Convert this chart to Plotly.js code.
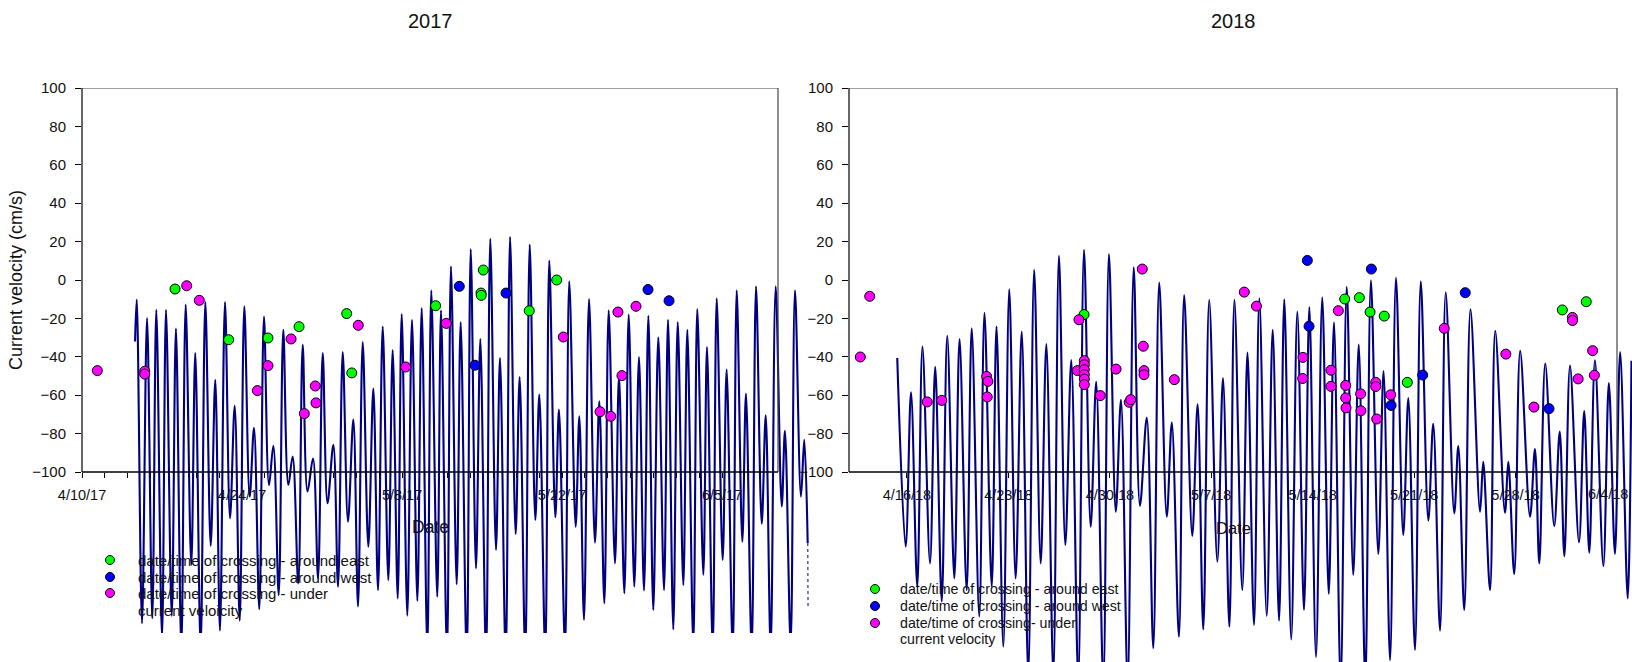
<!DOCTYPE html>
<html>
<head>
<meta charset="utf-8">
<script src="https://cdn.plot.ly/plotly-3.0.1.min.js"></script>
<style>
  html, body { margin: 0; padding: 0; background: #fff; }
  #chart { width: 1632px; height: 662px; }
</style>
</head>
<body>
<div id="chart"></div>
<script>
// Current velocity at the crossing site with the dates/times of fish crossings,
// spring 2017 and spring 2018. Times are elapsed days from the window start.
const START_2017 = '2017-04-10';
const START_2018 = '2018-04-12';

// ---- 2017: current velocity (cm/s), turning points of the record ----
const day2017 = [4.64, 4.79, 5.25, 5.69, 6.15, 6.50, 7.00, 7.35, 7.85, 8.22, 8.69, 9.07, 9.56, 9.91,
  10.38, 10.79, 11.26, 11.66, 12.07, 12.51, 12.95, 13.36, 13.80, 14.20, 14.67, 15.05, 15.51, 15.92,
  16.36, 16.74, 17.21, 17.61, 18.05, 18.43, 18.92, 19.31, 19.73, 20.21, 20.65, 21.06, 21.48, 21.99,
  22.40, 22.81, 23.27, 23.74, 24.15, 24.56, 25.05, 25.49, 25.90, 26.31, 26.80, 27.18, 27.62, 27.97,
  28.46, 28.87, 29.34, 29.72, 30.21, 30.56, 31.08, 31.41, 31.93, 32.28, 32.78, 33.13, 33.66, 34.01,
  34.47, 34.85, 35.35, 35.72, 36.22, 36.57, 37.07, 37.45, 37.94, 38.29, 38.78, 39.17, 39.66, 40.01,
  40.53, 40.88, 41.41, 41.73, 42.26, 42.63, 43.19, 43.51, 43.92, 44.36, 44.88, 45.26, 45.70, 46.08,
  46.63, 46.98, 47.45, 47.83, 48.32, 48.73, 49.17, 49.55, 49.98, 50.42, 50.92, 51.27, 51.73, 52.12,
  52.61, 52.96, 53.48, 53.83, 54.36, 54.68, 55.18, 55.53, 56.05, 56.40, 56.93, 57.28, 57.77, 58.09,
  58.59, 58.97, 59.47, 59.82, 60.25, 60.69, 61.22, 61.50, 62.00, 62.38, 62.90, 63.19, 63.49];
const vel2017 = [-32, -10.2, -178.8, -19.8, -176.2, -15.5, -186, -15.5, -175, -25.3, -192, -12.8, -148.4, -38,
  -192, -11.5, -138.5, -52, -182.6, -11.5, -124.1, -65.5, -177.4, -13.7, -112.8, -77, -171.5, -19,
  -106.8, -86.3, -164.1, -25.9, -106.8, -92, -158, -33.7, -110.2, -93, -155.4, -38, -116.3, -85.8,
  -159.7, -37.5, -125.9, -72.7, -170, -32.3, -138.9, -56.6, -161.5, -24.3, -156.3, -36.5, -165.8, -17.7,
  -174.8, -20.7, -167.2, -14.6, -192, -5.4, -165, -15.8, -195, 7.1, -158.5, -21.9, -198, 16.1,
  -150.2, -30.7, -198, 21.4, -140.6, -40.6, -198, 22.4, -132.3, -50.5, -196, 18.4, -125, -59.7,
  -195, 10.1, -123.6, -67.5, -192, -0.7, -128.5, -71, -177, -9.9, -136.8, -63.2, -168.4, -15.8,
  -147.6, -50, -163.2, -18, -159.7, -40.1, -161.8, -18.6, -171.9, -29.9, -161.5, -20.7, -182, -21.9,
  -158.9, -25.9, -190, -15.1, -153.6, -34.9, -192, -9.5, -145.8, -46.7, -193, -5.4, -136.3, -59.2,
  -193, -3.3, -127, -70.5, -192, -3.3, -118, -78.5, -190, -5.4, -112.8, -83.2, -137];
// last, broken stretch of the 2017 record
const tailDay2017 = [63.50, 63.52];
const tailVel2017 = [-137, -171];

// ---- 2017: crossings ----
const eastDay2017 = [8.14, 12.83, 16.27, 18.99, 23.16, 23.60, 30.94, 34.91, 34.93, 35.11, 39.13, 41.53];
const eastVel2017 = [-4.7, -31.1, -30.2, -24.3, -17.5, -48.4, -13.4, -6.8, -8.0, 5.2, -16, 0];
const westDay2017 = [33.01, 34.38, 37.10, 49.52, 51.36];
const westVel2017 = [-3.3, -44.4, -6.8, -5, -10.8];
const underDay2017 = [1.34, 5.49, 5.49, 9.16, 10.26, 15.34, 16.27, 18.29, 19.45, 20.41, 20.47, 24.17,
  28.32, 31.87, 42.11, 45.32, 46.26, 46.89, 47.24, 48.47];
const underVel2017 = [-47.2, -47.5, -49, -3, -10.6, -57.6, -44.6, -30.7, -69.6, -55.2, -64, -23.6,
  -45.3, -22.6, -29.7, -68.6, -71, -16.7, -49.8, -13.7];

// ---- 2018: current velocity (cm/s), turning points of the record ----
const day2018 = [3.33, 3.91, 4.28, 4.71, 5.07, 5.59, 5.95, 6.40, 6.78, 7.27, 7.63, 8.12, 8.47, 8.99,
  9.35, 9.85, 10.18, 10.65, 11.06, 11.50, 11.92, 12.37, 12.78, 13.23, 13.62, 14.10, 14.49, 14.93,
  15.34, 15.82, 16.22, 16.68, 17.06, 17.55, 17.94, 18.41, 18.77, 19.23, 19.65, 20.08, 20.55, 21.00,
  21.41, 21.93, 22.28, 22.77, 23.13, 23.69, 24.06, 24.45, 24.86, 25.42, 25.81, 26.25, 26.60, 27.14,
  27.50, 27.95, 28.32, 28.83, 29.24, 29.68, 30.04, 30.52, 30.94, 31.40, 31.77, 32.23, 32.66, 33.11,
  33.47, 33.93, 34.35, 34.80, 35.18, 35.63, 36.02, 36.53, 36.89, 37.34, 37.75, 38.25, 38.60, 39.06,
  39.46, 39.98, 40.32, 40.79, 41.18, 41.77, 42.05, 42.46, 42.89, 43.55, 43.77, 44.24, 44.60, 45.27,
  45.50, 45.91, 46.32, 47.00, 47.34, 47.64, 48.05, 48.67, 49.05, 49.37, 49.76, 50.38, 50.74, 51.09,
  51.48, 52.06, 52.44, 52.86, 53.22, 53.74, 54.00];
const vel2018 = [-40.6, -138.9, -58.5, -159.7, -34.6, -147.6, -45.2, -167.5, -29, -155.4, -30.8, -161.5, -25.1, -175.3,
  -17.1, -159.7, -24.2, -191, -4.8, -155.4, -26.8, -205, 5.3, -147.6, -33.3, -205, 12.6, -138,
  -41.7, -208, 15.7, -128.5, -53, -210, 13.5, -120.7, -62.4, -210, 6.6, -117.7, -71.6, -191.8,
  -1.3, -123.3, -74.2, -185.8, -7.9, -133.3, -64.7, -182, -10.3, -146.7, -51.1, -180.6, -10.3, -161.5,
  -37.8, -179.7, -9.5, -175, -26, -177.4, -10, -187.2, -16.4, -171.9, -14.1, -196.5, -9, -163.5,
  -22, -210, -3.5, -153.6, -33.6, -210, -0.1, -142.7, -47.4, -198, 1.2, -132.8, -61.5, -192.7,
  -0.7, -125.3, -74.9, -182.6, -6.4, -121.5, -86.5, -171.9, -15.3, -120.7, -94.7, -161.5, -26.4, -121.2,
  -94.7, -153.1, -36.9, -123.3, -88, -147.6, -43.5, -128.1, -78.9, -143.8, -44.6, -136.6, -68.3, -142,
  -41.8, -149, -53.7, -142.7, -37.5, -165.8, -42];

// ---- 2018: crossings ----
const eastDay2018 = [16.22, 34.21, 35.22, 35.96, 36.94, 38.53, 49.23, 50.88];
const eastVel2018 = [-18, -9.9, -9.2, -16.7, -18.8, -53.3, -15.6, -11.3];
const westDay2018 = [31.63, 31.75, 36.05, 37.41, 39.59, 42.53, 48.31];
const westVel2018 = [10.2, -24.1, 5.7, -65.3, -49.5, -6.6, -67];
const underDay2018 = [0.78, 1.43, 5.40, 6.40, 9.50, 9.59, 9.54, 15.76, 15.87, 16.24, 16.24, 16.24,
  16.24, 16.24, 16.24, 17.34, 18.43, 19.34, 19.44, 20.24, 20.31, 20.36, 20.36, 22.45, 27.28, 28.12,
  31.31, 31.33, 33.26, 33.26, 33.77, 34.28, 34.28, 34.30, 35.31, 35.33, 36.35, 36.35, 36.42, 37.38,
  41.08, 45.33, 47.27, 49.92, 49.93, 50.32, 51.32, 51.44];
const underVel2018 = [-40.1, -8.5, -63.5, -62.7, -50.2, -52.8, -60.9, -47.2, -20.7, -42, -44.1, -46.7,
  -49.3, -51.6, -54.5, -60.2, -46.4, -63.7, -62.3, 5.7, -34.5, -47.2, -49.3, -51.9, -6.3, -13.6,
  -51.3, -40.3, -47, -55.4, -16, -54.9, -61.4, -66.6, -59.3, -68.1, -53.3, -55.5, -72.4, -59.8,
  -25.2, -38.6, -66.2, -19.5, -21.1, -51.5, -36.8, -49.6];

// ---- axis ticks ----
const majorTicks2017 = ['2017-04-10', '2017-04-24', '2017-05-08', '2017-05-22', '2017-06-05'];
const majorText2017 = ['4/10/17', '4/24/17', '5/8/17', '5/22/17', '6/5/17'];
const majorTicks2018 = ['2018-04-16', '2018-04-23', '2018-04-30', '2018-05-07', '2018-05-14',
  '2018-05-21', '2018-05-28', '2018-06-04'];
const majorText2018 = ['4/16/18', '4/23/18', '4/30/18', '5/7/18', '5/14/18', '5/21/18', '5/28/18', '6/4/18'];
const velTicks = [-100, -80, -60, -40, -20, 0, 20, 40, 60, 80, 100];

const legendLabels2017 = ['date/time of crossing - around east', 'date/time of crossing - around west',
  'date/time of crossing - under', 'current veloicity'];
const legendLabels2018 = ['date/time of crossing - around east', 'date/time of crossing - around west',
  'date/time of crossing- under', 'current velocity'];

// ---- helpers ----
const DAY = 86400000;
function at(start, d) {
  const t = Date.parse(start + 'T00:00:00Z') + d * DAY;
  return new Date(t).toISOString().slice(0, 19).replace('T', ' ');
}
const dates = (start, arr) => arr.map(d => at(start, d));

const W = 1632, H = 662;
const px = p => p / W;          // page pixel -> paper x
const py = p => 1 - p / H;      // page pixel -> paper y

const FONT = 'Liberation Sans, Arial, Helvetica, sans-serif';
const NAVY = '#000080';
const EAST = '#00ff00', WEST = '#0000ff', UNDER = '#ff00ff';

function lineTrace(start, d, v, xa, ya) {
  return {
    x: dates(start, d), y: v, xaxis: xa, yaxis: ya, type: 'scatter', mode: 'lines',
    line: { color: NAVY, width: 2.1, shape: 'spline', smoothing: 1 },
    hoverinfo: 'skip', showlegend: false, name: 'current velocity'
  };
}
function dotTrace(start, d, v, xa, ya, color, name) {
  return {
    x: dates(start, d), y: v, xaxis: xa, yaxis: ya, type: 'scatter', mode: 'markers',
    marker: { color: color, size: 10, line: { color: '#000', width: 1 } },
    hoverinfo: 'skip', showlegend: false, name: name
  };
}

const traces = [
  lineTrace(START_2017, day2017, vel2017, 'x', 'y'),
  {
    x: dates(START_2017, tailDay2017), y: tailVel2017, xaxis: 'x', yaxis: 'y', type: 'scatter',
    mode: 'lines', line: { color: NAVY, width: 1, dash: '3px,3px' }, hoverinfo: 'skip', showlegend: false
  },
  dotTrace(START_2017, eastDay2017, eastVel2017, 'x', 'y', EAST, 'around east'),
  dotTrace(START_2017, westDay2017, westVel2017, 'x', 'y', WEST, 'around west'),
  dotTrace(START_2017, underDay2017, underVel2017, 'x', 'y', UNDER, 'under'),
  lineTrace(START_2018, day2018, vel2018, 'x2', 'y2'),
  dotTrace(START_2018, eastDay2018, eastVel2018, 'x2', 'y2', EAST, 'around east'),
  dotTrace(START_2018, westDay2018, westVel2018, 'x2', 'y2', WEST, 'around west'),
  dotTrace(START_2018, underDay2018, underVel2018, 'x2', 'y2', UNDER, 'under')
];

// minor date ticks every two days inside the 2017 frame
const minor2017 = [];
for (let d = 2; d <= 58; d += 2) minor2017.push(at(START_2017, d));

// plot geometry (page pixels)
const TOP = 88, AXIS_Y = 472, PX_PER_UNIT = 1.92;
const L17 = 82, R17 = 812, FRAME_R17 = 778, PXDAY17 = 11.43;
const L18 = 849, R18 = 1632, FRAME_R18 = 1617, PXDAY18 = 14.49;
const BOT17 = 633, BOT18 = 662;

// the last 2018 date label sits against the page edge; it is set as a note
// flush with the edge so it stays whole
const edgeLabel2018 = majorText2018[majorText2018.length - 1];
const axisText2018 = majorText2018.map((t, i) => (i === majorText2018.length - 1 ? '' : t));

function xAxis(l, r, start, pxPerDay, ticks, text, minor) {
  const ax = {
    domain: [px(l), px(r)],
    range: [at(start, 0), at(start, (r - l) / pxPerDay)],
    type: 'date', anchor: 'free', position: 1 - AXIS_Y / H,
    tickmode: 'array', tickvals: ticks, ticktext: text,
    ticks: 'outside', ticklen: 5, tickwidth: 1, tickcolor: '#000',
    ticklabelstandoff: 5,
    showline: false, showgrid: false, zeroline: false,
    tickfont: { family: FONT, size: 14.5, color: '#111' }, fixedrange: true
  };
  if (minor) {
    ax.minor = { tickmode: 'array', tickvals: minor, ticks: 'outside', ticklen: 5, tickwidth: 1,
      tickcolor: '#000', showgrid: false };
  }
  return ax;
}
function yAxis(bottom, anchor) {
  return {
    domain: [1 - bottom / H, 1 - TOP / H],
    range: [-100 - (bottom - AXIS_Y) / PX_PER_UNIT, 100],
    anchor: anchor, tickmode: 'array', tickvals: velTicks,
    ticks: 'outside', ticklen: 6, tickwidth: 1, tickcolor: '#000', ticklabelstandoff: 6,
    showline: false, showgrid: false, zeroline: false,
    tickfont: { family: FONT, size: 15, color: '#111' }, fixedrange: true
  };
}

function frame(xa, ya, right) {
  const d = xa + ' domain';
  return [
    { type: 'line', xref: d, yref: ya, x0: 0, x1: right, y0: 100, y1: 100, line: { color: '#444', width: 1.2 } },
    { type: 'line', xref: d, yref: ya, x0: right, x1: right, y0: -100, y1: 100, line: { color: '#444', width: 1.2 } },
    { type: 'line', xref: d, yref: ya, x0: 0, x1: 0, y0: -100, y1: 100, line: { color: '#000', width: 1.2 } },
    { type: 'line', xref: d, yref: ya, x0: 0, x1: right, y0: -100, y1: -100, line: { color: '#000', width: 1.4 } }
  ];
}

function legendBlock(markX, textX, rows, labels, size) {
  const colors = [EAST, WEST, UNDER];
  const shapes = colors.map((c, i) => ({
    type: 'circle', xref: 'paper', yref: 'paper', xsizemode: 'pixel', ysizemode: 'pixel',
    xanchor: px(markX), yanchor: py(rows[i]), x0: -4.5, x1: 4.5, y0: -4.5, y1: 4.5,
    fillcolor: c, line: { color: '#000', width: 1 }
  }));
  const notes = labels.map((t, i) => ({
    text: t, xref: 'paper', yref: 'paper', x: px(textX), y: py(rows[i]),
    xanchor: 'left', yanchor: 'middle', showarrow: false,
    font: { family: FONT, size: size, color: '#111' }
  }));
  return { shapes, notes };
}

const leg17 = legendBlock(110, 136, [560, 577, 593, 610], legendLabels2017, 15);
const leg18 = legendBlock(875, 898, [589, 606, 623, 639], legendLabels2018, 14.2);

const textNote = (t, x, y, size, extra) => Object.assign({
  text: t, xref: 'paper', yref: 'paper', x: px(x), y: py(y), xanchor: 'center', yanchor: 'middle',
  showarrow: false, font: { family: FONT, size: size, color: '#111' }
}, extra || {});

const layout = {
  width: W, height: H,
  margin: { l: 0, r: 0, t: 0, b: 0, pad: 0 },
  paper_bgcolor: '#fff', plot_bgcolor: 'rgba(0,0,0,0)',
  showlegend: false,
  font: { family: FONT, color: '#111' },
  xaxis: xAxis(L17, R17, START_2017, PXDAY17, majorTicks2017, majorText2017, minor2017),
  yaxis: yAxis(BOT17, 'x'),
  xaxis2: xAxis(L18, R18, START_2018, PXDAY18, majorTicks2018, axisText2018, null),
  yaxis2: yAxis(BOT18, 'x2'),
  shapes: [].concat(
    frame('x', 'y', (FRAME_R17 - L17) / (R17 - L17)),
    frame('x2', 'y2', (FRAME_R18 - L18) / (R18 - L18)),
    leg17.shapes, leg18.shapes
  ),
  annotations: [].concat(
    [
      textNote('2017', 430, 21, 20),
      textNote('2018', 1233, 21, 20),
      textNote('Date', 430, 527, 17.5),
      textNote('Date', 1233, 528, 16.5),
      textNote('Current velocity (cm/s)', 16, 280, 18, { textangle: -90 }),
      textNote(edgeLabel2018, 1630, 494, 14.5, { xanchor: 'right' })
    ],
    leg17.notes, leg18.notes
  )
};

Plotly.newPlot('chart', traces, layout, { displayModeBar: false, staticPlot: true });
</script>
</body>
</html>
